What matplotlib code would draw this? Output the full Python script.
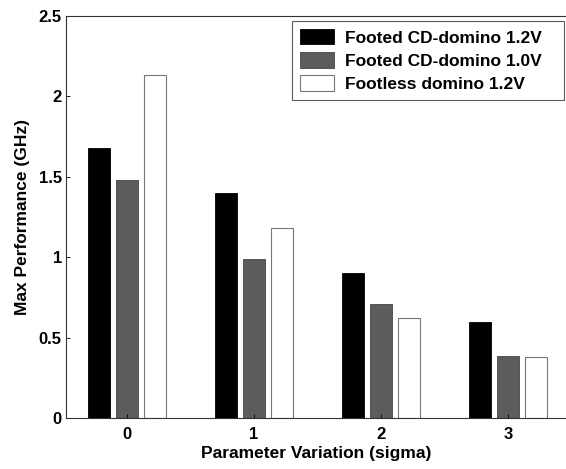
import numpy as np
import matplotlib.pyplot as plt

plt.rcParams['font.family'] = ['Liberation Sans', 'DejaVu Sans']
plt.rcParams['font.weight'] = 'bold'

sigma = [0, 1, 2, 3]
footed_12 = [1.68, 1.40, 0.90, 0.60]
footed_10 = [1.48, 0.99, 0.71, 0.385]
footless_12 = [2.135, 1.18, 0.62, 0.38]
labels = ["Footed CD-domino 1.2V", "Footed CD-domino 1.0V", "Footless domino 1.2V"]


def main():
    fig = plt.figure(figsize=(5.66, 4.69), dpi=100)
    ax = fig.add_axes([0.1166, 0.1087, 0.8834, 0.857])

    x = np.array(sigma)
    w = 0.173
    off = 0.222
    ax.bar(x - off, footed_12, w, color='black', edgecolor='black', linewidth=0.6, label=labels[0])
    ax.bar(x, footed_10, w, color='#5c5c5c', edgecolor='#444444', linewidth=0.6, label=labels[1])
    ax.bar(x + off, footless_12, w, color='white', edgecolor='#777777', linewidth=0.8, label=labels[2])

    ax.set_xlim(-0.48, 3.457)
    ax.set_ylim(0, 2.5)
    ax.set_xticks(sigma)
    ax.set_yticks([0, 0.5, 1, 1.5, 2, 2.5])
    ax.set_yticklabels(['0', '0.5', '1', '1.5', '2', '2.5'])
    ax.tick_params(direction='in', length=3, labelsize=12, width=0.6)
    ax.tick_params(axis='x', pad=6.5)
    ax.tick_params(axis='y', pad=3)
    for lab in ax.get_xticklabels() + ax.get_yticklabels():
        lab.set_fontweight('bold')
    ax.spines['right'].set_visible(False)
    for s in ax.spines.values():
        s.set_linewidth(0.8)
        s.set_color('#333333')

    ax.set_xlabel("Parameter Variation (sigma)", fontsize=12.5, fontweight='bold', labelpad=3)
    ax.set_ylabel("Max Performance (GHz)", fontsize=12.5, fontweight='bold', labelpad=6)

    leg = ax.legend(loc='upper left',
                    bbox_to_anchor=(292 / 566, 1 - 21 / 469, (564 - 292) / 566, 0),
                    bbox_transform=fig.transFigure, borderaxespad=0, mode='expand',
                    fontsize=12.5, frameon=True, fancybox=False,
                    edgecolor='#333333', handlelength=1.95, handleheight=1.0,
                    borderpad=0.45, labelspacing=0.38, handletextpad=0.63)
    leg.get_frame().set_linewidth(0.8)
    for t in leg.get_texts():
        t.set_fontweight('bold')

    fig.savefig("out.png", dpi=100)


if __name__ == "__main__":
    main()
